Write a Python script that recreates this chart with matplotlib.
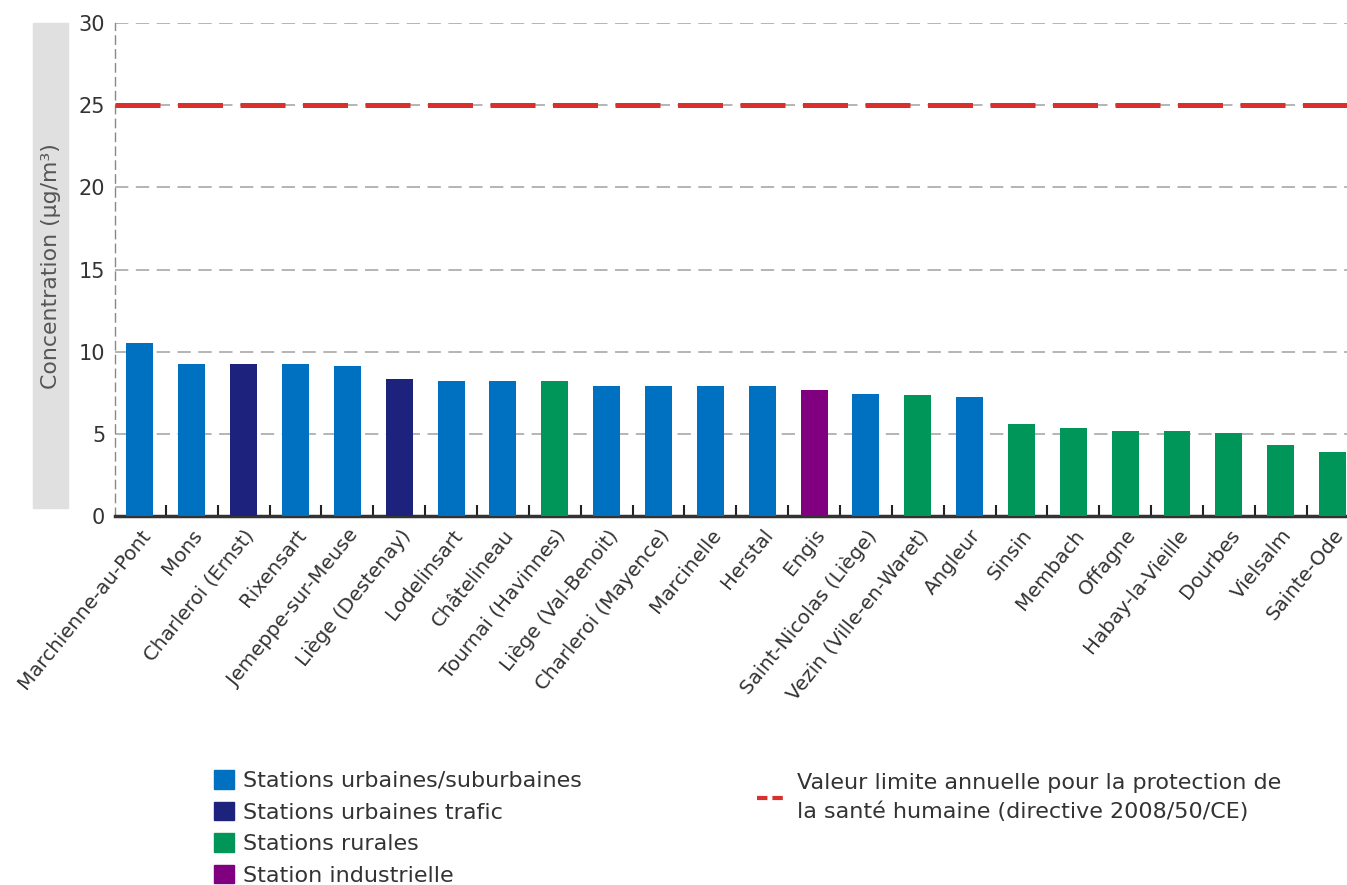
import numpy as np
import matplotlib
matplotlib.use('Agg')
import matplotlib.pyplot as plt
from matplotlib.patches import Patch, Rectangle
from matplotlib.lines import Line2D

plt.rcParams['font.family'] = ['DejaVu Sans']

stations = [
    "Marchienne-au-Pont", "Mons", "Charleroi (Ernst)", "Rixensart",
    "Jemeppe-sur-Meuse", "Liège (Destenay)", "Lodelinsart", "Châtelineau",
    "Tournai (Havinnes)", "Liège (Val-Benoit)", "Charleroi (Mayence)",
    "Marcinelle", "Herstal", "Engis", "Saint-Nicolas (Liège)",
    "Vezin (Ville-en-Waret)", "Angleur", "Sinsin", "Membach", "Offagne",
    "Habay-la-Vieille", "Dourbes", "Vielsalm", "Sainte-Ode",
]
values = [10.5, 9.25, 9.25, 9.25, 9.15, 8.35, 8.2, 8.2, 8.2, 7.9, 7.9, 7.9,
          7.9, 7.65, 7.45, 7.35, 7.25, 5.6, 5.35, 5.15, 5.15, 5.05, 4.35, 3.9]
types = ["urb", "urb", "traf", "urb", "urb", "traf", "urb", "urb", "rur",
         "urb", "urb", "urb", "urb", "ind", "urb", "rur", "urb", "rur", "rur",
         "rur", "rur", "rur", "rur", "rur"]
limit_value = 25

type_colors = {"urb": "#0070c0", "traf": "#1d237c", "rur": "#00965a", "ind": "#800080"}
type_labels = {"urb": "Stations urbaines/suburbaines", "traf": "Stations urbaines trafic",
               "rur": "Stations rurales", "ind": "Station industrielle"}
limit_label = "Valeur limite annuelle pour la protection de\nla santé humaine (directive 2008/50/CE)"

W, H = 1347, 885
fig = plt.figure(figsize=(W / 100, H / 100), dpi=100)
ax = fig.add_axes([115 / W, 1 - 516 / H, 1 - 115 / W + 0.002, (516 - 23) / H])

x = np.arange(len(stations))
ax.bar(x, values, width=0.52, color=[type_colors[t] for t in types], zorder=3)
ax.axhline(limit_value, color="#d9302e", lw=3.6, linestyle=(0, (9.0, 3.5)), zorder=4)

ax.set_ylim(0, 30)
ax.set_xlim(-0.48, len(stations) - 1 + 0.33)
ax.set_yticks([0, 5, 10, 15, 20, 25, 30])
ax.yaxis.grid(True, color="#a8a8a8", lw=1.2, linestyle=(0, (8, 4.5)), zorder=0)
ax.tick_params(axis="y", length=0, pad=7, labelsize=15, labelcolor="#333333")

ax.set_xticks(x)
ax.set_xticklabels(stations, rotation=51, ha="right", rotation_mode="anchor",
                   fontsize=14.3, color="#333333")
ax.tick_params(axis="x", length=0, pad=7)
ax.set_xticks(x[:-1] + 0.5, minor=True)
ax.tick_params(axis="x", which="minor", direction="in", length=8, width=1.5, color="#222222")

for s in ["top", "right"]:
    ax.spines[s].set_visible(False)
ax.spines["bottom"].set_linewidth(2.5)
ax.spines["bottom"].set_color("#333333")
ax.spines["left"].set_color("#888888")
ax.spines["left"].set_linewidth(1)
ax.spines["left"].set_linestyle((0, (6, 4)))

# grey band behind the y label
fig.patches.append(Rectangle((33 / W, 1 - 508 / H), 35 / W, (508 - 23) / H,
                             transform=fig.transFigure, color="#e0e0e0", zorder=0))
fig.text(51 / W, 1 - 266 / H, "Concentration (µg/m³)", rotation=90,
         ha="center", va="center", fontsize=15.8, color="#555555")

handles = [Patch(color=type_colors[k], label=type_labels[k]) for k in ["urb", "traf", "rur", "ind"]]
fig.legend(handles=handles, loc="upper left", bbox_to_anchor=(203 / W, 1 - 759 / H),
           frameon=False, fontsize=16, handlelength=0.9, handleheight=0.9,
           handletextpad=0.4, labelspacing=0.48, borderpad=0, labelcolor="#333333")

lim_handle = Line2D([], [], color="#d9302e", lw=3, linestyle=(0, (2.5, 1.2)))
leg2 = fig.legend(handles=[lim_handle], labels=[limit_label], loc="upper left",
                  bbox_to_anchor=(746 / W, 1 - 762 / H), frameon=False, fontsize=16,
                  handlelength=1.2, handletextpad=0.6, borderpad=0, labelcolor="#333333")
for t in leg2.get_texts():
    t.set_linespacing(1.5)

fig.savefig("out.png", dpi=100)
